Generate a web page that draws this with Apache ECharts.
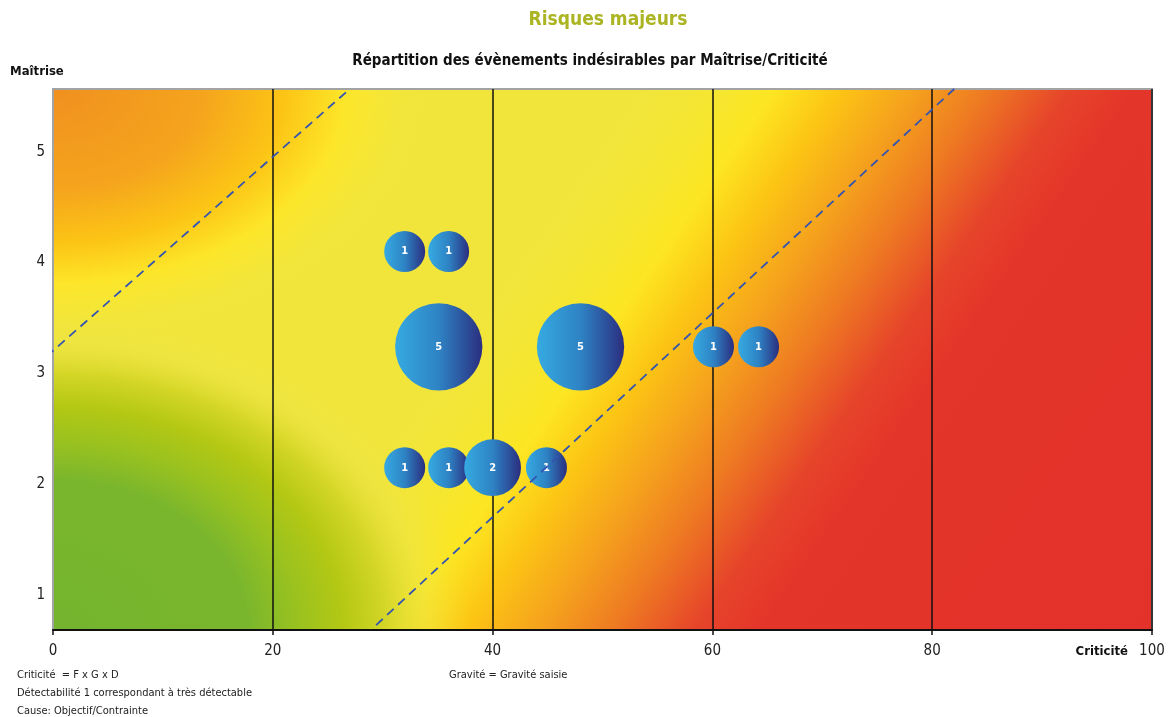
<!DOCTYPE html>
<html lang="fr">
<head>
<meta charset="UTF-8">
<title>Risques majeurs</title>
<script src="https://cdn.jsdelivr.net/npm/echarts@6/dist/echarts.min.js"></script>
<style>html,body{margin:0;padding:0;background:#fff}</style>
</head>
<body>
<div id="main" style="width:1176px;height:717px;"></div>
<script>
var FONT = "'Liberation Sans Narrow', 'DejaVu Sans Condensed', Roboto, sans-serif";

// axes
var xMin = 0, xMax = 100, xStep = 20;
var yMin = 0.686, yMax = 5.565;

// bulles : criticité, maîtrise, nombre d'évènements
var bubbleX = [32, 36, 35.1, 48, 60.1, 64.2, 32, 36, 40, 44.9];
var bubbleY = [4.1, 4.1, 3.24, 3.24, 3.24, 3.24, 2.15, 2.15, 2.15, 2.15];
var bubbleN = [1, 1, 5, 5, 1, 1, 1, 1, 2, 1];

// limites en pointillés
var limit1 = [[-0.57, 3.155], [27.0, 5.565]];
var limit2 = [[29.4, 0.73], [82.0, 5.565]];

var notesLeft = [
    'Criticité  = F x G x D',
    'Détectabilité 1 correspondant à très détectable',
    'Cause: Objectif/Contrainte'
];
var noteRight = 'Gravité = Gravité saisie';

var grid = { left: 53, top: 89, right: 24, bottom: 87 };
var W = 1176, H = 717;
var gx = grid.left, gy = grid.top, gw = W - grid.left - grid.right, gh = H - grid.top - grid.bottom;

var bubbles = bubbleX.map(function (x, i) { return [x, bubbleY[i], bubbleN[i]]; });

// fond : dégradé diagonal jaune -> orange -> rouge
var baseFill = new echarts.graphic.LinearGradient(gx, gy, gx + 993, gy + 690, [
    { offset: 0, color: '#f1e53c' },
    { offset: 0.40, color: '#f1e53c' },
    { offset: 0.455, color: '#f5e630' },
    { offset: 0.49, color: '#fde622' },
    { offset: 0.535, color: '#fcc514' },
    { offset: 0.585, color: '#f5a21d' },
    { offset: 0.635, color: '#ee7a22' },
    { offset: 0.69, color: '#e6452a' },
    { offset: 0.735, color: '#e4352a' },
    { offset: 1, color: '#e3322a' }
], true);
// coin haut gauche orange (ellipse : scaleX 1.5)
var orangeFill = new echarts.graphic.RadialGradient(0, 0, 250, [
    { offset: 0, color: '#f0901f' },
    { offset: 0.4, color: '#f5a41d' },
    { offset: 0.62, color: '#fcc515' },
    { offset: 0.78, color: '#fde62a' },
    { offset: 0.9, color: 'rgba(248,231,50,0.5)' },
    { offset: 1, color: 'rgba(241,229,60,0)' }
], true);
// coin bas gauche vert (ellipse : scaleX 1.3)
var greenFill = new echarts.graphic.RadialGradient(0, gh, 320, [
    { offset: 0, color: '#74b42e' },
    { offset: 0.47, color: '#7ab62d' },
    { offset: 0.59, color: '#9ac21f' },
    { offset: 0.7, color: '#b4c814' },
    { offset: 0.8, color: '#d4d626' },
    { offset: 0.9, color: 'rgba(236,228,70,0.5)' },
    { offset: 1, color: 'rgba(241,229,60,0)' }
], true);

var bubbleFill = new echarts.graphic.LinearGradient(0, 0, 1, 0, [
    { offset: 0, color: '#36aae2' },
    { offset: 0.5, color: '#2e83c4' },
    { offset: 1, color: '#2b2e7f' }
]);

var myChart = echarts.init(document.getElementById('main'));
var option = {
    animation: false,
    textStyle: { fontFamily: FONT },
    grid: {
        left: grid.left, top: grid.top, right: grid.right, bottom: grid.bottom,
        show: true, borderColor: '#a3a3a3', borderWidth: 2, backgroundColor: 'transparent'
    },
    graphic: [
        { type: 'rect', z: -10, silent: true, shape: { x: gx, y: gy, width: gw, height: gh }, style: { fill: baseFill } },
        { type: 'rect', z: -9, silent: true, x: gx, y: gy, scaleX: 1.5, shape: { x: 0, y: 0, width: gw / 1.5, height: gh }, style: { fill: orangeFill } },
        { type: 'rect', z: -8, silent: true, x: gx, y: gy, scaleX: 1.3, shape: { x: 0, y: 0, width: gw / 1.3, height: gh }, style: { fill: greenFill } },
        { type: 'text', x: 608, y: 20, style: { text: 'Risques majeurs', font: 'bold 19px ' + FONT, fill: '#abb422', textAlign: 'center', textVerticalAlign: 'middle' } },
        { type: 'text', x: 590, y: 61, style: { text: 'Répartition des évènements indésirables par Maîtrise/Criticité', font: 'bold 15px ' + FONT, fill: '#111', textAlign: 'center', textVerticalAlign: 'middle' } },
        { type: 'text', x: 10, y: 72, style: { text: 'Maîtrise', font: 'bold 13px ' + FONT, fill: '#111', textAlign: 'left', textVerticalAlign: 'middle' } },
        { type: 'text', x: 1128, y: 652, style: { text: 'Criticité', font: 'bold 13px ' + FONT, fill: '#111', textAlign: 'right', textVerticalAlign: 'middle' } },
        { type: 'text', x: 17, y: 675, style: { text: notesLeft[0], font: '11px ' + FONT, fill: '#222', textVerticalAlign: 'middle' } },
        { type: 'text', x: 17, y: 693, style: { text: notesLeft[1], font: '11px ' + FONT, fill: '#222', textVerticalAlign: 'middle' } },
        { type: 'text', x: 17, y: 711, style: { text: notesLeft[2], font: '11px ' + FONT, fill: '#222', textVerticalAlign: 'middle' } },
        { type: 'text', x: 449, y: 675, style: { text: noteRight, font: '11px ' + FONT, fill: '#222', textVerticalAlign: 'middle' } }
    ],
    xAxis: {
        type: 'value',
        min: xMin, max: xMax, interval: xStep,
        axisLine: { show: true, lineStyle: { color: '#111', width: 2 } },
        axisTick: { show: true, length: 5, lineStyle: { color: '#111', width: 1.5 } },
        axisLabel: { margin: 14, fontSize: 15, color: '#222', fontFamily: FONT },
        splitLine: { show: true, lineStyle: { color: '#111', width: 1.5 } }
    },
    yAxis: {
        type: 'value',
        min: yMin, max: yMax, minInterval: 1, maxInterval: 1,
        axisLine: { show: true, lineStyle: { color: '#a3a3a3', width: 2 } },
        axisTick: { show: false },
        splitLine: { show: false },
        axisLabel: {
            margin: 8, fontSize: 15, color: '#222', fontFamily: FONT,
            showMinLabel: false, showMaxLabel: false,
            formatter: function (v) { return Math.abs(v - Math.round(v)) < 1e-6 ? String(Math.round(v)) : ''; }
        }
    },
    series: [
        {
            name: 'Évènements',
            type: 'scatter',
            z: 2,
            data: bubbles,
            symbolSize: function (val) { return 41 * Math.pow(val[2], 0.47); },
            itemStyle: { color: bubbleFill, opacity: 1 },
            label: {
                show: true, position: 'inside', formatter: function (p) { return p.value[2]; },
                color: '#fff', fontWeight: 'bold', fontSize: 11, fontFamily: FONT
            }
        },
        {
            name: 'limite1', type: 'line', z: 3, clip: false, silent: true,
            data: limit1, symbol: 'none',
            lineStyle: { color: '#3354b0', width: 1.8, type: [9, 6] }
        },
        {
            name: 'limite2', type: 'line', z: 3, clip: false, silent: true,
            data: limit2, symbol: 'none',
            lineStyle: { color: '#3354b0', width: 1.8, type: [9, 6] }
        }
    ]
};
myChart.setOption(option);
</script>
</body>
</html>
